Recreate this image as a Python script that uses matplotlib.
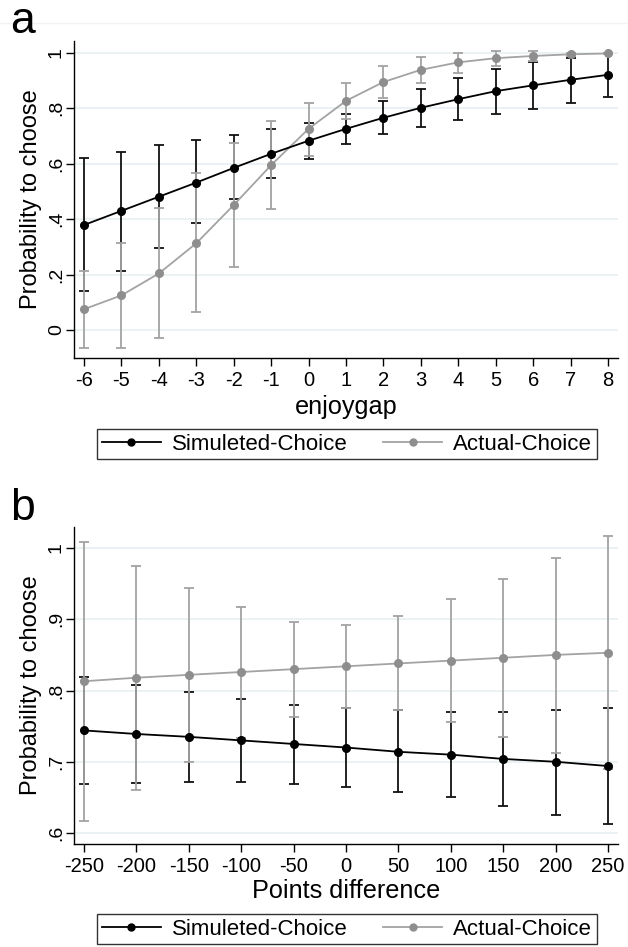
import matplotlib
matplotlib.use("Agg")
import matplotlib.pyplot as plt
from matplotlib.lines import Line2D
import numpy as np

plt.rcParams['font.family'] = ['Liberation Sans', 'DejaVu Sans']

# panel a: probability to choose by enjoygap
gap = [-6, -5, -4, -3, -2, -1, 0, 1, 2, 3, 4, 5, 6, 7, 8]
sim_a = [0.379, 0.430, 0.481, 0.532, 0.585, 0.636, 0.683, 0.726, 0.766, 0.802, 0.833, 0.862, 0.883, 0.903, 0.921]
sim_a_lo = [0.142, 0.214, 0.296, 0.385, 0.471, 0.549, 0.618, 0.670, 0.706, 0.731, 0.757, 0.779, 0.799, 0.819, 0.842]
sim_a_hi = [0.619, 0.643, 0.666, 0.685, 0.703, 0.724, 0.748, 0.780, 0.827, 0.870, 0.911, 0.942, 0.966, 0.983, 0.998]
act_a = [0.075, 0.125, 0.204, 0.313, 0.451, 0.595, 0.726, 0.827, 0.895, 0.939, 0.966, 0.981, 0.989, 0.995, 0.998]
act_a_lo = [-0.064, -0.064, -0.030, 0.064, 0.228, 0.438, 0.627, 0.761, 0.839, 0.892, 0.929, 0.954, 0.970, 0.989, 0.996]
act_a_hi = [0.214, 0.315, 0.439, 0.565, 0.675, 0.755, 0.820, 0.893, 0.952, 0.986, 1.001, 1.007, 1.008, 1.001, 1.000]

# panel b: probability to choose by points difference
pts = [-250, -200, -150, -100, -50, 0, 50, 100, 150, 200, 250]
sim_b = [0.744, 0.739, 0.735, 0.730, 0.725, 0.720, 0.714, 0.710, 0.704, 0.700, 0.694]
sim_b_lo = [0.669, 0.670, 0.671, 0.671, 0.669, 0.665, 0.658, 0.650, 0.638, 0.626, 0.613]
sim_b_hi = [0.819, 0.808, 0.798, 0.788, 0.780, 0.776, 0.772, 0.770, 0.770, 0.773, 0.776]
act_b = [0.813, 0.818, 0.822, 0.826, 0.830, 0.834, 0.838, 0.842, 0.846, 0.850, 0.853]
act_b_lo = [0.617, 0.660, 0.699, 0.734, 0.763, 0.776, 0.772, 0.756, 0.735, 0.712, 0.690]
act_b_hi = [1.008, 0.975, 0.944, 0.917, 0.896, 0.892, 0.905, 0.928, 0.957, 0.986, 1.017]

W, H = 628, 947
BLACK = '#000000'
GREY_LINE = '#a3a3a3'
GREY_MARK = '#8e8e8e'
GRID = '#e8f0f2'


def rect(l, t, r, b):
    return [l / W, 1 - b / H, (r - l) / W, (b - t) / H]


fig = plt.figure(figsize=(W / 100, H / 100), dpi=100)
fig.add_artist(Line2D([0, 1], [1 - 23 / H, 1 - 23 / H], color='#f0f4f5', lw=1))


def draw(ax, x, s, slo, shi, a, alo, ahi, xlim, ylim, yticks, ylabels, xlabel, xlab_y, leg_y, letter, letter_y):
    ax.set_xlim(*xlim)
    ax.set_ylim(*ylim)
    for yt in yticks:
        ax.axhline(yt, color=GRID, lw=1.2, zorder=0)
    x = np.array(x)
    s, a = np.array(s), np.array(a)
    ax.errorbar(x, s, yerr=[s - np.array(slo), np.array(shi) - s], fmt='none',
                ecolor='#111111', elinewidth=1.3, capsize=3.6, capthick=1.3, zorder=2)
    ax.errorbar(x, a, yerr=[a - np.array(alo), np.array(ahi) - a], fmt='none',
                ecolor=GREY_LINE, elinewidth=1.3, capsize=3.6, capthick=1.3, zorder=3)
    ax.plot(x, a, color=GREY_LINE, lw=1.3, zorder=4)
    ax.plot(x, a, 'o', color=GREY_MARK, ms=5.5, zorder=5)
    ax.plot(x, s, color=BLACK, lw=1.3, zorder=6)
    ax.plot(x, s, 'o', color=BLACK, ms=5.5, zorder=7)

    ax.spines['top'].set_visible(False)
    ax.spines['right'].set_visible(False)
    for sp in ('left', 'bottom'):
        ax.spines[sp].set_linewidth(1.0)
    ax.set_xticks(x)
    ax.set_xticklabels([str(v) for v in x], fontsize=14.5)
    ax.set_yticks(yticks)
    ax.set_yticklabels(ylabels, fontsize=14, rotation=90, va='center')
    ax.tick_params(axis='both', length=6, width=1.0)
    ax.tick_params(axis='x', pad=3)
    ax.tick_params(axis='y', pad=0.5)

    ax.set_ylabel('Probability to choose', fontsize=17)
    ax.yaxis.label.set_va('center')
    ax.yaxis.set_label_coords(-43 / 544, 0.5)
    ax.set_xlabel(xlabel, fontsize=18.2)
    ax.xaxis.label.set_va('baseline')
    ax.xaxis.set_label_coords(0.5, -xlab_y / 317)

    handles = [Line2D([], [], color=BLACK, lw=1.3, marker='o', ms=5),
               Line2D([], [], color=GREY_LINE, lw=1.3, marker='o', ms=5, mfc=GREY_MARK, mec=GREY_MARK)]
    leg = ax.legend(handles, ['Simuleted-Choice', 'Actual-Choice'], loc='center',
                    bbox_to_anchor=(347 / W, 1 - leg_y / H), bbox_transform=fig.transFigure,
                    ncol=2, fontsize=16, frameon=True, fancybox=False, edgecolor='black',
                    handlelength=2.65, handletextpad=0.5, columnspacing=1.6, borderpad=0.22,
                    borderaxespad=0)
    leg.get_frame().set_linewidth(1.0)
    fig.text(10 / W, 1 - letter_y / H, letter, fontsize=32, va='baseline', ha='left')


draw(ax=fig.add_axes(rect(74, 41, 618, 358)), x=gap,
     s=sim_a, slo=sim_a_lo, shi=sim_a_hi, a=act_a, alo=act_a_lo, ahi=act_a_hi,
     xlim=(-6.267, 8.267), ylim=(-0.101, 1.043),
     yticks=[0, 0.2, 0.4, 0.6, 0.8, 1.0], ylabels=['0', '.2', '.4', '.6', '.8', '1'],
     xlabel='enjoygap', xlab_y=56, leg_y=444, letter='a', letter_y=33)

draw(ax=fig.add_axes(rect(74, 527, 618, 844)), x=pts,
     s=sim_b, slo=sim_b_lo, shi=sim_b_hi, a=act_b, alo=act_b_lo, ahi=act_b_hi,
     xlim=(-259.5, 259.5), ylim=(0.5846, 1.0295),
     yticks=[0.6, 0.7, 0.8, 0.9, 1.0], ylabels=['.6', '.7', '.8', '.9', '1'],
     xlabel='Points difference', xlab_y=54, leg_y=929, letter='b', letter_y=520)

fig.savefig('out.png', dpi=100)
